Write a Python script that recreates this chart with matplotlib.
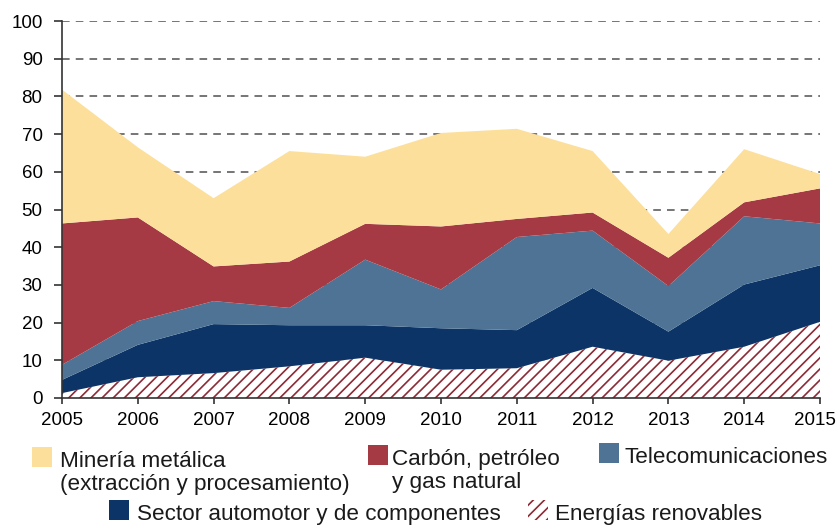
import matplotlib.pyplot as plt
from matplotlib.patches import Rectangle
from matplotlib.transforms import ScaledTranslation

plt.rcParams["font.family"] = ["Liberation Sans", "DejaVu Sans"]
plt.rcParams["hatch.linewidth"] = 1.2

years = [2005, 2006, 2007, 2008, 2009, 2010, 2011, 2012, 2013, 2014, 2015]

# stacked bottom -> top
renovables = [1.3, 5.5, 6.6, 8.4, 10.7, 7.5, 7.9, 13.6, 9.9, 13.6, 20.2]
automotor = [3.5, 8.6, 13.0, 10.9, 8.6, 11.0, 10.1, 15.6, 7.7, 16.5, 15.0]
telecom = [4.0, 6.3, 6.1, 4.6, 17.4, 10.3, 24.7, 15.2, 12.1, 18.1, 11.1]
carbon = [37.5, 27.5, 9.2, 12.3, 9.5, 16.7, 4.8, 4.8, 7.5, 3.7, 9.3]
mineria = [35.5, 18.6, 18.1, 29.3, 17.8, 24.8, 23.9, 16.3, 6.3, 14.1, 3.8]

C_MIN = "#fcdf9b"
C_CARB = "#a53a45"
C_TEL = "#4e7395"
C_AUTO = "#0c3466"
C_HATCH = "#8c2a35"

fig = plt.figure(figsize=(8.37, 5.26), dpi=100)
ax = fig.add_axes([62 / 837, 1 - 398 / 526, (820 - 62) / 837, (398 - 21) / 526])

# gridlines behind the areas
ax.set_axisbelow(True)
ax.yaxis.grid(True, color="#505050", linestyle=(0, (5, 4)), linewidth=1.1)

stacks = ax.stackplot(
    years, renovables, automotor, telecom, carbon, mineria,
    colors=["white", C_AUTO, C_TEL, C_CARB, C_MIN], linewidth=0, zorder=2,
)
stacks[0].set_hatch("///")
stacks[0].set_edgecolor(C_HATCH)
stacks[0].set_linewidth(0)

ax.set_xlim(2005, 2015)
ax.set_ylim(0, 100)
ax.set_xticks(years)
ax.set_yticks(range(0, 101, 10))

for s in ["top", "right"]:
    ax.spines[s].set_visible(False)
for s in ["left", "bottom"]:
    ax.spines[s].set_color("#333333")
    ax.spines[s].set_linewidth(1.2)
    ax.spines[s].set_zorder(5)

ax.tick_params(axis="y", length=6, width=1.2, color="#333333", pad=8, labelsize=13.5)
ax.tick_params(axis="x", length=4, width=1.2, color="#333333", pad=6, labelsize=13.5)

# last year label sits against the right edge, nudge it in a little
last = ax.get_xticklabels()[-1]
last.set_transform(last.get_transform() + ScaledTranslation(-0.05, 0, fig.dpi_scale_trans))


# legend built by hand to match the layout
def px(x, y):
    return x / 837, 1 - y / 526


def legend_item(x0, y0, lines, color, hatch=None, text_x=None):
    xa, ya = px(x0, y0 + 20)
    rect = Rectangle(
        (xa, ya), 20 / 837, 20 / 526, transform=fig.transFigure,
        facecolor="white" if hatch else color,
        edgecolor=C_HATCH if hatch else "none", hatch=hatch, linewidth=0,
    )
    fig.patches.append(rect)
    tx = text_x if text_x is not None else x0 + 28
    for i, line in enumerate(lines):
        bx, by = px(tx, y0 + 20 + i * 23)
        fig.text(bx, by, line, fontsize=16.2, va="baseline", ha="left", color="#1a1a1a")


legend_item(32, 447, ["Minería metálica", "(extracción y procesamiento)"], C_MIN, text_x=60)
legend_item(368, 445, ["Carbón, petróleo", "y gas natural"], C_CARB, text_x=392)
legend_item(599, 443, ["Telecomunicaciones"], C_TEL, text_x=625)
legend_item(109, 500, ["Sector automotor y de componentes"], C_AUTO, text_x=137)
legend_item(528, 500, ["Energías renovables"], None, hatch="///", text_x=555)

fig.savefig("out.png", dpi=100)
